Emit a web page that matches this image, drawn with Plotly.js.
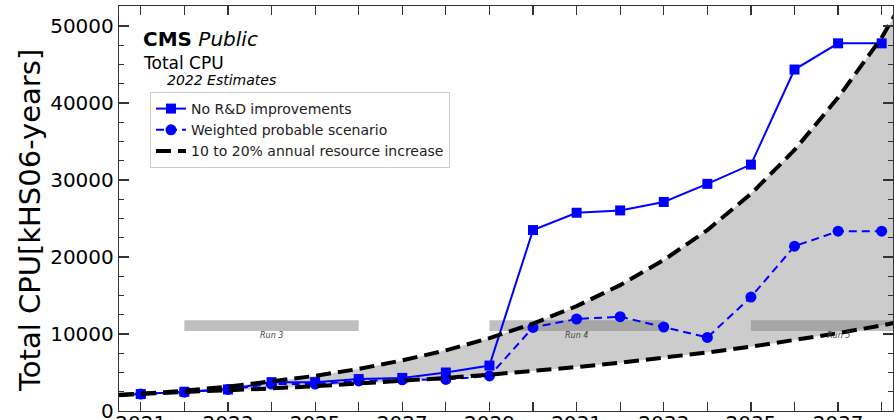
<!DOCTYPE html>
<html>
<head>
<meta charset="utf-8">
<script src="https://cdn.plot.ly/plotly-3.0.1.min.js"></script>
<style>html,body{margin:0;padding:0;background:#fff;}#chart{width:894px;height:420px;}</style>
</head>
<body>
<div id="chart"></div>
<script>
// ---- data ----
const years = [2020, 2021, 2022, 2023, 2024, 2025, 2026, 2027, 2028, 2029, 2030, 2031, 2032, 2033, 2034, 2035, 2036, 2037, 2038];
const noRnD = [2100, 2200, 2500, 2800, 3750, 3750, 4150, 4300, 5000, 5900, 23500, 25750, 26050, 27150, 29500, 32000, 44350, 47750, 47750];
const weighted = [2100, 2200, 2450, 2800, 3500, 3500, 3900, 4050, 4100, 4550, 10850, 11950, 12250, 10900, 9550, 14800, 21400, 23350, 23350];

const curveYears = [2020, 2021, 2022, 2023, 2024, 2025, 2026, 2027, 2028, 2029, 2030, 2031, 2032, 2033, 2034, 2035, 2036, 2037, 2038, 2039];
const lower10 = [2000, 2200, 2420, 2660, 2930, 3220, 3540, 3900, 4290, 4720, 5190, 5710, 6280, 6900, 7600, 8350, 9190, 10110, 11120, 12230];
const upper20 = [1830, 2200, 2640, 3170, 3800, 4560, 5470, 6570, 7880, 9460, 11350, 13620, 16350, 19600, 23500, 28200, 33900, 40700, 48500, 58200];

const runNames = ["Run 3", "Run 4", "Run 5"];
const runStart = [2022, 2029, 2035];
const runEnd = [2026, 2033, 2039];

const xTickVals = [2021, 2022, 2023, 2024, 2025, 2026, 2027, 2028, 2029, 2030, 2031, 2032, 2033, 2034, 2035, 2036, 2037, 2038];
const xTickText = ["2021", "", "2023", "", "2025", "", "2027", "", "2029", "", "2031", "", "2033", "", "2035", "", "2037", ""];

// ---- layout helpers ----
const M = {l: 119, r: 1, t: 6, b: 9};
const W = 894, H = 420;
const pw = W - M.l - M.r, ph = H - M.t - M.b;
const px = x => (x - M.l) / pw;
const py = y => (H - M.b - y) / ph;
const FONT = "DejaVu Sans, sans-serif";
const BAR_LO = 10400, BAR_HI = 11800;

const traces = [];
// band
traces.push({x: curveYears, y: lower10, mode: 'lines', line: {width: 0, color: 'rgba(0,0,0,0)'}, showlegend: false, hoverinfo: 'skip'});
traces.push({x: curveYears, y: upper20, mode: 'lines', line: {width: 0, color: 'rgba(0,0,0,0)'}, fill: 'tonexty', fillcolor: '#cccccc', showlegend: false, hoverinfo: 'skip'});
// run bars
runNames.forEach((n, i) => {
  traces.push({x: [runStart[i], runEnd[i], runEnd[i], runStart[i], runStart[i]], y: [BAR_LO, BAR_LO, BAR_HI, BAR_HI, BAR_LO],
    mode: 'lines', fill: 'toself', fillcolor: 'rgba(128,128,128,0.5)', line: {width: 0}, showlegend: false, hoverinfo: 'skip'});
});
// blue series
traces.push({x: years, y: noRnD, name: 'No R&D improvements', mode: 'lines+markers',
  line: {color: '#0000ff', width: 2}, marker: {symbol: 'square', size: 10, color: '#0000ff'}});
traces.push({x: years, y: weighted, name: 'Weighted probable scenario', mode: 'lines+markers',
  line: {color: '#0000ff', width: 2, dash: '8px,5px'}, marker: {symbol: 'circle', size: 11, color: '#0000ff'}});
// dashed band edges
traces.push({x: curveYears, y: upper20, name: '10 to 20% annual resource increase', mode: 'lines',
  line: {color: '#000000', width: 4, dash: '15px,7px'}, legendgroup: 'band'});
traces.push({x: curveYears, y: lower10, name: 'lower', mode: 'lines', showlegend: false,
  line: {color: '#000000', width: 4, dash: '15px,7px'}, legendgroup: 'band'});

const annotations = [
  {text: '<b>CMS</b> <i>Public</i>', x: px(141), y: py(39), xref: 'paper', yref: 'paper', xanchor: 'left', yanchor: 'middle', showarrow: false, font: {family: FONT, size: 20, color: '#000'}},
  {text: 'Total CPU', x: px(141), y: py(63), xref: 'paper', yref: 'paper', xanchor: 'left', yanchor: 'middle', showarrow: false, font: {family: FONT, size: 17, color: '#000'}},
  {text: '<i>2022 Estimates</i>', x: px(165), y: py(80), xref: 'paper', yref: 'paper', xanchor: 'left', yanchor: 'middle', showarrow: false, font: {family: FONT, size: 14, color: '#000'}},
  {text: 'Total CPU[kHS06-years]', x: px(30), y: py(221), xref: 'paper', yref: 'paper', xanchor: 'center', yanchor: 'middle', textangle: -90, showarrow: false, font: {family: FONT, size: 29, color: '#000'}}
];
runNames.forEach((n, i) => {
  annotations.push({text: '<i>' + n + '</i>', x: (runStart[i] + runEnd[i]) / 2, y: 9800, xref: 'x', yref: 'y', showarrow: false,
    font: {family: FONT, size: 8, color: '#444'}});
});

const layout = {
  width: W, height: H,
  margin: M,
  paper_bgcolor: '#fff', plot_bgcolor: '#fff',
  showlegend: true,
  legend: {x: px(150), y: py(92), xanchor: 'left', yanchor: 'top', bgcolor: '#ffffff', bordercolor: '#cccccc', borderwidth: 1,
    font: {family: FONT, size: 14, color: '#222'}, tracegroupgap: 0},
  xaxis: {range: [2020.5, 2038.26], tickvals: xTickVals, ticktext: xTickText, ticks: 'inside', ticklen: 9, tickwidth: 1.2, tickcolor: '#333',
    showline: true, linecolor: '#333', linewidth: 1.2, mirror: 'ticks', showgrid: false, zeroline: false, ticklabeloverflow: 'allow',
    ticklabelstandoff: -6,
    tickfont: {family: FONT, size: 20, color: '#000'}},
  yaxis: {range: [0, 52600], tick0: 0, dtick: 10000, tickformat: 'd', ticks: 'inside', ticklen: 10, tickwidth: 1.2, tickcolor: '#333',
    minor: {dtick: 2500, ticks: 'inside', ticklen: 5, tickcolor: '#333', tickwidth: 1},
    showline: true, linecolor: '#333', linewidth: 1.2, mirror: 'ticks', showgrid: false, zeroline: false, ticklabeloverflow: 'allow',
    tickfont: {family: FONT, size: 20, color: '#000'}},
  annotations: annotations
};

Plotly.newPlot('chart', traces, layout, {displayModeBar: false, staticPlot: true});
</script>
</body>
</html>
